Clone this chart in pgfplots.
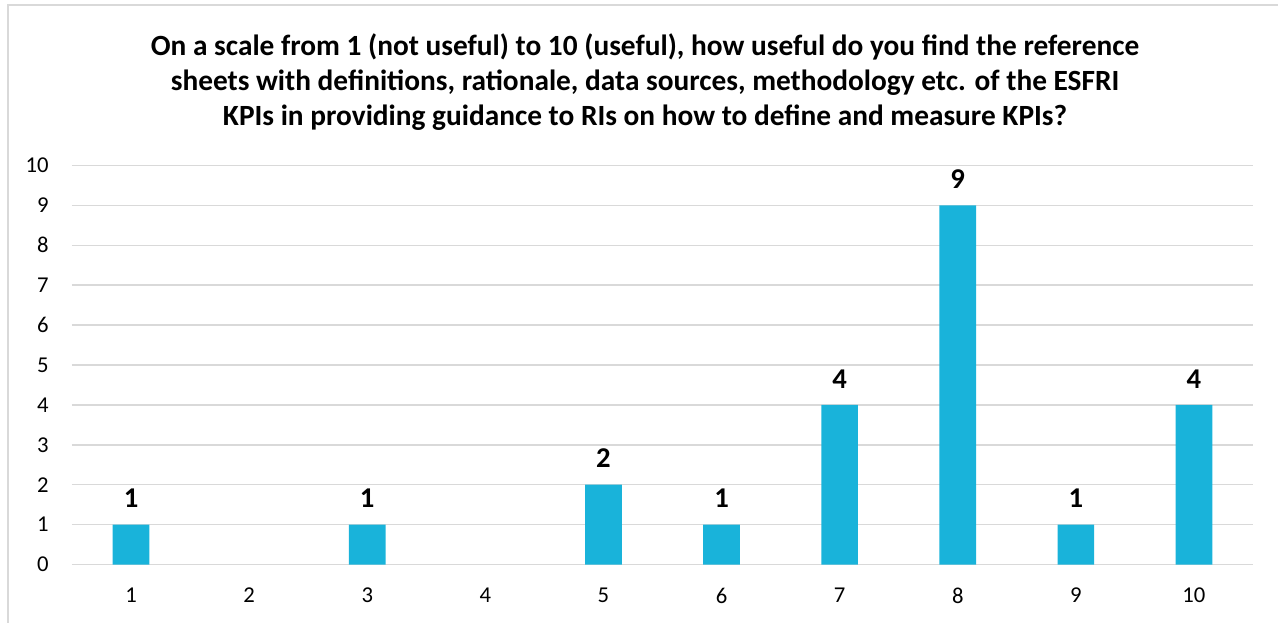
\documentclass[border=0pt]{standalone}
\usepackage{fontspec}
\setmainfont{Carlito}
\usepackage{pgfplots}
\pgfplotsset{compat=1.18}
\definecolor{barblue}{HTML}{19B3DA}
\definecolor{gridgray}{HTML}{D9D9D9}
\begin{document}
\begin{tikzpicture}
\path[use as bounding box] (0pt,0pt) rectangle (958.5pt,466.5pt);
\draw[gridgray, line width=1.5pt] (6pt,-5pt) -- (6pt,462.75pt) -- (970pt,462.75pt);
\node[align=center, font=\fontsize{22}{26.25}\selectfont\bfseries, anchor=center] at (483.75pt,405pt)
{On a scale from 1 (not useful) to 10 (useful), how useful do you find the reference\\
sheets with definitions, rationale, data sources, methodology etc. of the ESFRI\\
KPIs in providing guidance to RIs on how to define and measure KPIs?};
\begin{axis}[
  at={(54pt,43.125pt)}, anchor=south west,
  scale only axis, width=885.75pt, height=299.25pt,
  xmin=0.5, xmax=10.5, ymin=0, ymax=10,
  xtick={1,...,10}, ytick={0,...,10},
  axis line style={draw=none},
  major tick length=0pt,
  ymajorgrids, grid style={gridgray, line width=1.1pt},
  tick label style={font=\fontsize{17}{20}\selectfont},
  /pgf/number format/assume math mode=true,
  yticklabel style={xshift=-14pt},
  xticklabel style={yshift=-14pt},
  clip=false,
]
\addplot[ybar, bar width=27.5pt, fill=barblue, draw=none,
  nodes near coords,
  every node near coord/.append style={font=\fontsize{21.5}{24}\selectfont\bfseries, text=black, yshift=9pt}]
  coordinates {(1,1) (3,1) (5,2) (6,1) (7,4) (8,9) (9,1) (10,4)};
\end{axis}
\end{tikzpicture}
\end{document}
